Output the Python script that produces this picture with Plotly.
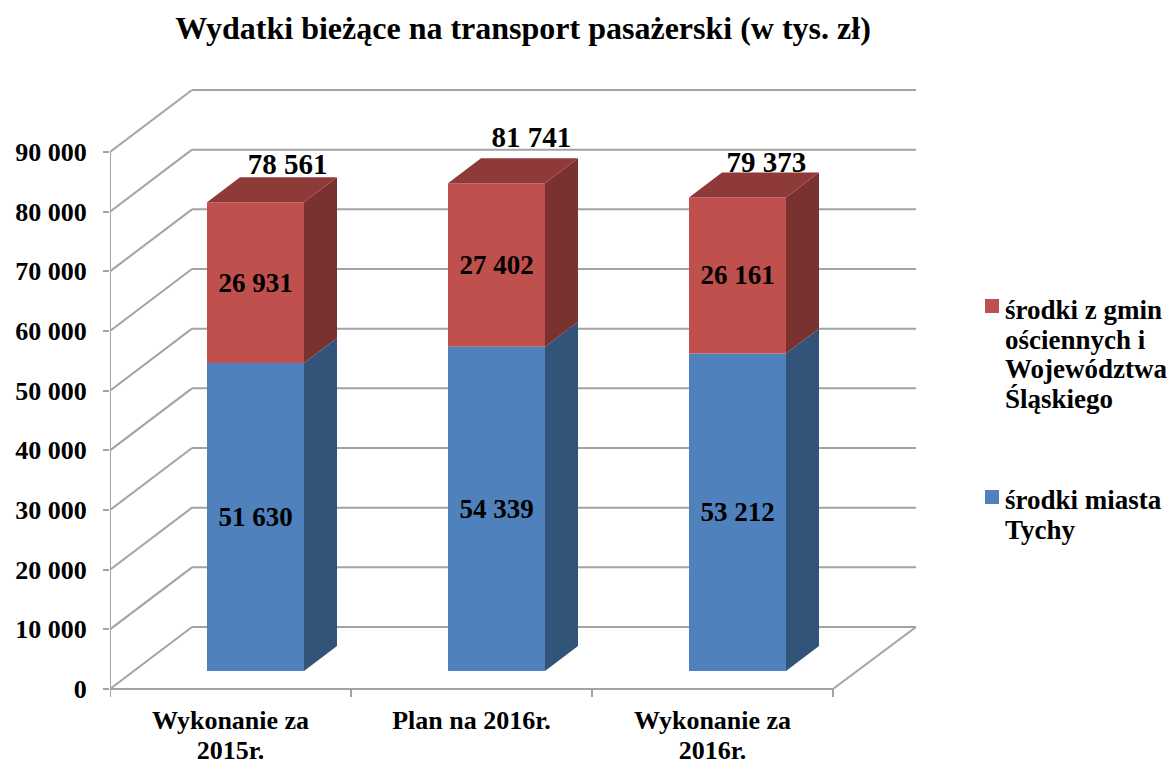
import plotly.graph_objects as go

categories = ["Wykonanie za<br>2015r.", "Plan na 2016r.", "Wykonanie za<br>2016r."]
city_funds = [51630, 54339, 53212]
neighbour_funds = [26931, 27402, 26161]
totals = [78561, 81741, 79373]
total_label_shift = [(0.133, 6000), (0.145, 7300), (0.12, 5400)]
y_ticks = list(range(0, 100000, 10000))
series_names = ["środki miasta Tychy", "środki z gmin ościennych i Województwa Śląskiego"]
legend_lines_red = ["środki z gmin", "ościennych i", "Województwa", "Śląskiego"]
legend_lines_blue = ["środki miasta", "Tychy"]

FONT = "Liberation Serif"
BLACK = "#000000"
GRID = "#a3a3a3"
BLUE, BLUE_SIDE = "#4f81bd", "#325479"
RED, RED_TOP, RED_SIDE = "#c0504d", "#8e3a38", "#7a3230"

PX_X = 241.0             # pixels per category
PX_Y = 537.0 / 90000     # pixels per value unit
WALL_DX, WALL_DY = 82 / PX_X, 62 / PX_Y
BAR_W = 97 / PX_X
BAR_SHIFT = 25 / PX_X
BAR_BASE = 18 / PX_Y
BAR_DX, BAR_DY = 33 / PX_X, 25 / PX_Y
X_MIN, X_MAX = -0.5, (1169 - 110) / PX_X - 0.5
WALL_END = (916 - 110) / PX_X - 0.5
Y_MAX = (689 - 80) / PX_Y
Y_MIN = -10 / PX_Y


def fmt(v):
    return f"{v:,}".replace(",", " ")


def bold(s):
    return f"<b>{s}</b>"


def px_x(p):
    return X_MIN + (p - 110) / PX_X


def px_y(p):
    return (689 - p) / PX_Y


def cat_label(text):
    lines = [f'<span style="font-size:26px"><b>{t}</b></span>' for t in text.split("<br>")]
    return "<br>".join(lines)


fig = go.Figure()

# front faces
xs = [i + BAR_SHIFT for i in range(3)]
fig.add_trace(go.Bar(x=xs, y=city_funds, base=[BAR_BASE] * 3, width=BAR_W, name=series_names[0],
                     marker=dict(color=BLUE, line=dict(width=0)), showlegend=False,
                     text=[bold(fmt(v)) for v in city_funds], textposition="inside",
                     insidetextanchor="middle", textangle=0,
                     textfont=dict(family=FONT, size=27, color=BLACK)))
fig.add_trace(go.Bar(x=xs, y=neighbour_funds, base=[BAR_BASE + v for v in city_funds], width=BAR_W,
                     name=series_names[1], marker=dict(color=RED, line=dict(width=0)), showlegend=False,
                     text=[bold(fmt(v)) for v in neighbour_funds], textposition="inside",
                     insidetextanchor="middle", textangle=0,
                     textfont=dict(family=FONT, size=27, color=BLACK)))


def poly(x, y, color):
    fig.add_trace(go.Scatter(x=x, y=y, mode="lines", fill="toself", fillcolor=color,
                             line=dict(width=0, color=color), hoverinfo="skip", showlegend=False))


# side and top faces
for i in range(3):
    r = xs[i] + BAR_W / 2
    l = xs[i] - BAR_W / 2
    y1 = BAR_BASE + city_funds[i]
    y2 = y1 + neighbour_funds[i]
    poly([r, r + BAR_DX, r + BAR_DX, r, r], [BAR_BASE, BAR_BASE + BAR_DY, y1 + BAR_DY, y1, BAR_BASE], BLUE_SIDE)
    poly([r, r + BAR_DX, r + BAR_DX, r, r], [y1, y1 + BAR_DY, y2 + BAR_DY, y2, y1], RED_SIDE)
    poly([l, r, r + BAR_DX, l + BAR_DX, l], [y2, y2, y2 + BAR_DY, y2 + BAR_DY, y2], RED_TOP)

# back wall gridlines and side wall diagonals (drawn below the bars)
shapes = []
line = dict(type="line", xref="x", yref="y", layer="below", line=dict(color=GRID, width=2))
for v in y_ticks:
    shapes.append(dict(line, x0=X_MIN, y0=v, x1=X_MIN + WALL_DX, y1=v + WALL_DY))
    shapes.append(dict(line, x0=X_MIN + WALL_DX, y0=v + WALL_DY, x1=WALL_END, y1=v + WALL_DY))
shapes.append(dict(line, x0=2.5, y0=0, x1=WALL_END, y1=WALL_DY))
# left wall edge, x axis line and category boundary ticks
shapes.append(dict(line, x0=X_MIN, y0=-8 / PX_Y, x1=X_MIN, y1=90000))
shapes.append(dict(line, x0=X_MIN, y0=0, x1=2.5, y1=0))
for b in [0.5, 1.5, 2.5]:
    shapes.append(dict(line, x0=b, y0=0, x1=b, y1=-8 / PX_Y))

# total labels
fig.add_trace(go.Scatter(
    x=[xs[i] + total_label_shift[i][0] for i in range(3)],
    y=[BAR_BASE + totals[i] + total_label_shift[i][1] for i in range(3)],
    mode="text", text=[bold(fmt(v)) for v in totals], textposition="middle center", cliponaxis=False,
    textfont=dict(family=FONT, size=29, color=BLACK), hoverinfo="skip", showlegend=False))

# legend, laid out as in the reference
annotations = []
LINE_H = 29.5
for color, lines, marker_y, text_y in [(RED, legend_lines_red, 306, 310), (BLUE, legend_lines_blue, 497, 500)]:
    fig.add_trace(go.Scatter(x=[px_x(992)], y=[px_y(marker_y)], mode="markers", cliponaxis=False,
                             marker=dict(symbol="square", size=14, color=color, line=dict(width=0)),
                             hoverinfo="skip", showlegend=False))
    for k, text in enumerate(lines):
        annotations.append(dict(x=px_x(1003), y=px_y(text_y + k * LINE_H), xref="x", yref="y",
                                xanchor="left", yanchor="middle", align="left", showarrow=False,
                                text=bold(text), font=dict(family=FONT, size=27, color=BLACK)))

fig.update_layout(
    width=1169, height=763, autosize=False,
    margin=dict(l=110, r=0, t=80, b=64, pad=0),
    paper_bgcolor="white", plot_bgcolor="white",
    barmode="overlay", showlegend=False,
    font=dict(family=FONT, color=BLACK),
    title=dict(text=bold("Wydatki bieżące na transport pasażerski (w tys. zł)"),
               x=523 / 1169, xanchor="center", xref="container",
               y=1 - 28 / 763, yanchor="middle",
               font=dict(family=FONT, size=32, color=BLACK), automargin=False),
    shapes=shapes,
    annotations=annotations,
    xaxis=dict(range=[X_MIN, X_MAX], tickmode="array", tickvals=[0, 1, 2],
               ticktext=[cat_label(c) for c in categories],
               showgrid=False, zeroline=False, showline=False, ticks="", ticklabelstandoff=6,
               automargin=False, tickfont=dict(family=FONT, size=23, color=BLACK)),
    yaxis=dict(range=[Y_MIN, Y_MAX], tickmode="array", tickvals=y_ticks,
               ticktext=[bold(fmt(v)) for v in y_ticks],
               showgrid=False, zeroline=False, showline=False, automargin=False,
               ticks="outside", ticklen=6, tickwidth=2, tickcolor=GRID, ticklabelstandoff=11,
               tickfont=dict(family=FONT, size=26, color=BLACK)),
)

fig.write_html("out.html", post_script="document.body.style.margin='0';",
               config={"displayModeBar": False})
